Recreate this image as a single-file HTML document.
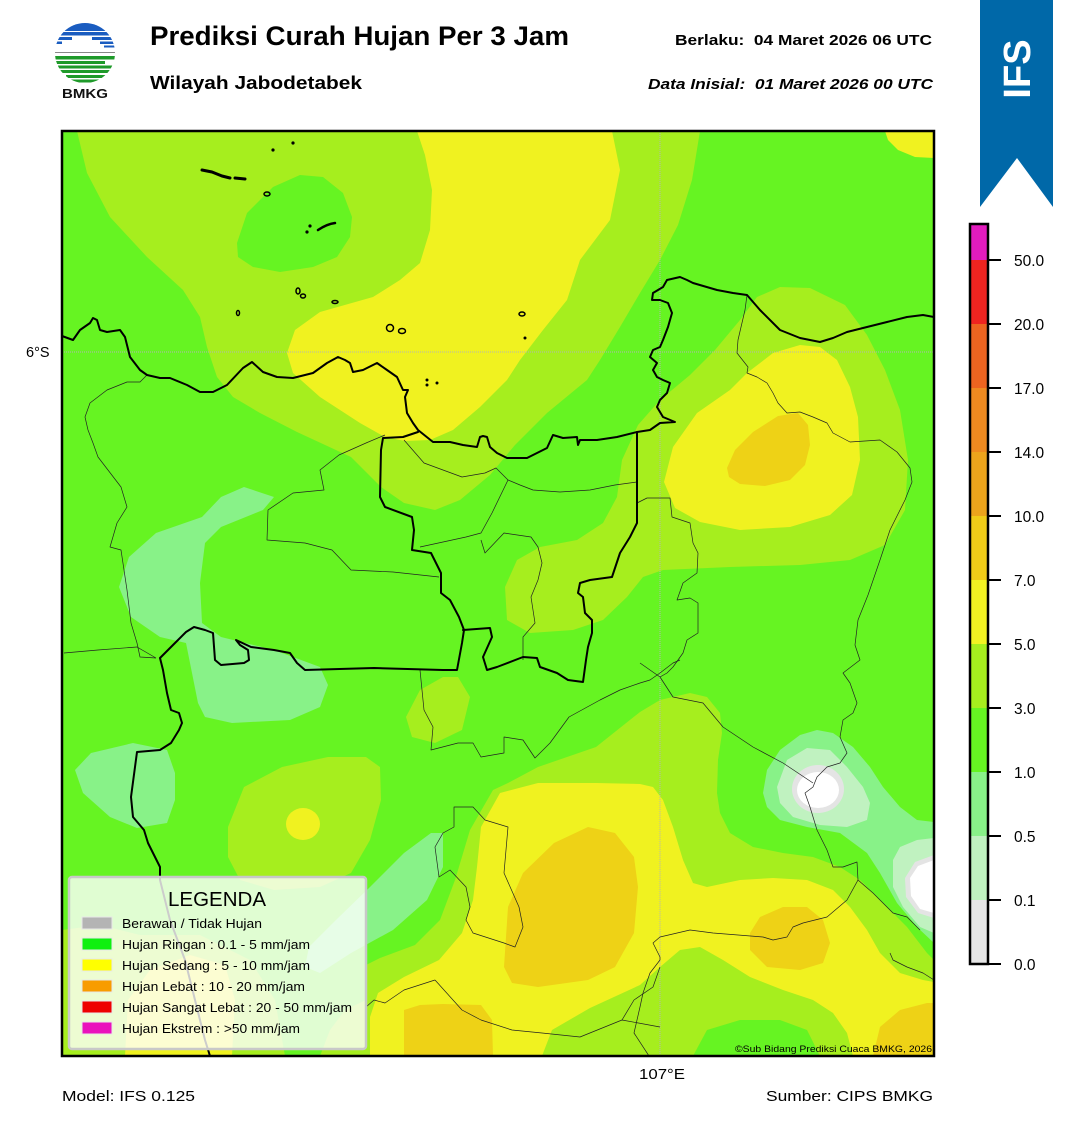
<!DOCTYPE html>
<html><head><meta charset="utf-8"><style>html,body{margin:0;padding:0;background:#fff}svg{display:block}</style></head>
<body>
<svg width="1072" height="1128" viewBox="0 0 1072 1128" xmlns="http://www.w3.org/2000/svg" font-family="'Liberation Sans', Arial, sans-serif">
<defs>
<clipPath id="mapclip"><rect x="62" y="131" width="872" height="925"/></clipPath>
<clipPath id="logoclip"><circle cx="85" cy="53" r="30"/></clipPath>
</defs>
<rect width="1072" height="1128" fill="#fff"/>

<!-- ===== MAP ===== -->
<g clip-path="url(#mapclip)" stroke-linejoin="round">
<rect x="62" y="131" width="872" height="925" fill="#66f422"/>
<!-- lime big top-left + band -->
<polygon fill="#a6ee1e" points="77,131 700,131 692,180 678,225 660,260 640,293 620,327 600,360 587,380 547,413 515,445 490,475 460,500 435,510 404,503 381,487 351,457 297,432 260,413 233,397 217,377 207,347 200,317 183,290 147,257 110,217 87,173"/>
<!-- green blob in lime -->
<polygon fill="#66f422" points="237,243 247,213 273,187 300,175 323,177 343,193 352,217 350,237 337,257 313,267 280,272 253,267 238,257"/>
<!-- top yellow -->
<polygon fill="#f0f220" points="417,131 612,131 620,170 610,220 580,260 567,300 543,330 520,360 507,380 480,407 453,430 430,440 405,441 385,437 360,423 320,397 293,373 287,353 295,330 320,312 373,297 400,280 420,263 430,230 432,190 425,155"/>
<!-- top-right yellow corner -->
<polygon fill="#f0f220" points="885,131 934,131 934,158 915,157 898,150 888,140"/>
<!-- lime ring right -->
<polygon fill="#a6ee1e" points="757,297 740,320 715,350 690,375 660,400 638,425 622,460 617,497 603,523 577,540 540,547 517,560 505,587 507,620 530,633 573,630 603,620 627,597 643,577 663,570 730,567 800,565 850,560 885,545 905,510 908,460 900,410 885,370 867,335 845,305 810,288 780,287"/>
<!-- yellow ring -->
<polygon fill="#f0f220" points="664,482 673,447 697,413 730,390 747,373 773,353 800,345 820,347 837,360 850,387 858,417 860,460 852,495 830,515 790,527 740,530 700,522 675,508"/>
<!-- gold ring -->
<polygon fill="#eed216" points="727,468 735,450 753,432 778,416 798,413 808,425 810,445 805,465 790,480 765,486 740,484 729,477"/>
<!-- lime small blob -->
<polygon fill="#a6ee1e" points="443,677 420,690 406,717 412,737 435,743 462,730 470,697 458,677"/>
<!-- light green big left -->
<polygon fill="#88f288" points="274,497 244,487 221,497 202,517 156,533 129,557 119,587 131,617 160,637 186,643 190,663 198,703 205,717 232,723 290,720 320,707 328,685 320,667 274,650 221,637 202,623 200,583 205,543 221,527 263,510"/>
<!-- light green left lower -->
<polygon fill="#88f288" points="75,770 91,753 133,743 167,750 175,773 175,800 167,823 137,828 110,817 83,793"/>
<!-- lime center-left -->
<polygon fill="#a6ee1e" points="228,827 244,787 282,767 328,757 366,757 380,767 381,800 370,840 351,873 320,887 274,890 240,880 228,857"/>
<ellipse cx="303" cy="824" rx="17" ry="16" fill="#f0f220"/>
<!-- bottom-left lime / yellow -->
<polygon fill="#a6ee1e" points="62,930 100,925 140,935 200,935 250,960 275,1000 285,1056 62,1056"/>
<polygon fill="#f0f220" points="125,1056 128,1000 150,970 190,955 225,965 235,1000 232,1056"/>
<polygon fill="#a6ee1e" points="320,1056 330,1030 345,1010 366,1000 366,1056"/>
<!-- light green diagonal -->
<polygon fill="#88f288" points="443,833 431,833 404,853 370,887 336,920 309,947 305,967 320,973 351,953 393,930 427,900 443,867"/>
<!-- bottom lime big -->
<polygon fill="#a6ee1e" points="366,965 380,958 415,945 440,920 455,880 470,830 493,790 508,783 538,767 596,747 640,712 660,700 690,693 707,697 720,713 722,733 718,760 717,793 720,813 730,833 753,847 783,853 813,857 840,867 860,880 873,893 893,913 907,927 927,953 934,960 934,1056 366,1056"/>
<!-- bottom yellow big -->
<polygon fill="#f0f220" points="500,793 538,783 596,783 640,784 653,787 663,800 673,827 683,860 693,883 707,887 740,880 773,878 807,880 833,890 850,907 867,930 880,953 900,973 923,980 934,982 934,1056 853,1056 847,1033 833,1013 813,1000 783,990 750,977 723,960 700,947 680,950 660,967 640,985 590,1008 552,1030 542,1056 370,1056 370,1017 378,993 404,977 439,960 462,933 473,900 477,867 481,827"/>
<polygon fill="#66f422" points="693,1056 707,1030 740,1020 780,1020 807,1030 820,1056"/>
<!-- golds -->
<polygon fill="#eed216" points="504,967 508,907 523,873 554,843 588,827 615,833 634,857 638,887 634,933 615,967 588,980 538,987 512,983"/>
<polygon fill="#eed216" points="404,1056 404,1010 420,1005 443,1004 481,1005 492,1020 493,1056"/>
<polygon fill="#eed216" points="750,933 760,917 783,907 807,907 823,920 830,943 823,963 800,970 767,967 750,950"/>
<polygon fill="#eed216" points="873,1056 880,1027 900,1010 927,1003 934,1003 934,1056"/>
<!-- light green / pale / white right -->
<polygon fill="#88f288" points="763,793 767,770 780,750 800,735 817,730 833,733 853,747 870,767 883,787 900,807 917,820 934,822 934,943 917,927 897,903 880,873 867,853 840,833 807,827 780,820 767,807"/>
<polygon fill="#c0f2c0" points="777,787 787,760 807,748 830,750 847,767 863,787 870,803 867,820 847,827 820,825 793,817 780,803"/>
<ellipse cx="818" cy="789" rx="26" ry="24" fill="#e4e4e4"/>
<ellipse cx="818" cy="790" rx="21" ry="18" fill="#ffffff"/>
<polygon fill="#c0f2c0" points="893,860 900,847 917,840 934,838 934,933 920,927 903,907 893,887"/>
<polygon fill="#e4e4e4" points="905,878 915,862 934,855 934,918 918,913 906,897"/>
<polygon fill="#ffffff" points="910,878 918,866 934,860 934,913 920,909 911,896"/>

<!-- grid lines -->
<line x1="660" y1="131" x2="660" y2="1056" stroke="#b4b4b4" stroke-width="1" stroke-dasharray="1,1"/>
<line x1="62" y1="352" x2="934" y2="352" stroke="#b4b4b4" stroke-width="1" stroke-dasharray="1,1"/>

<!-- thin borders -->
<g fill="none" stroke="#222" stroke-width="0.7">
<path d="M147,375 L140,382 L127,382 L107,390 L90,403 L85,417 L88,430 L93,443 L98,457 L121,487 L127,507 L117,523 L110,547 L121,550 L127,590 L131,623 L137,643 L140,657 L156,658"/>
<path d="M64,653 L98,650 L137,647 L156,658"/>
<path d="M385,435 L366,443 L339,455 L320,470 L324,490 L293,493 L268,510 L267,540 L305,543 L332,550 L351,570 L393,572 L439,577"/>
<path d="M404,440 L424,463 L462,477 L485,473 L496,468 L508,480 L520,485 L533,490 L560,492 L590,490 L615,485 L637,482"/>
<path d="M508,480 L492,513 L481,533 L466,537 L420,547"/>
<path d="M481,540 L485,553 L504,533 L531,537 L538,547 L542,563 L538,580 L531,597 L535,623 L523,637 L523,660"/>
<path d="M637,503 L647,498 L670,498 L672,517 L690,523 L693,543 L698,553 L697,573 L683,583 L677,600 L690,598 L698,603 L698,633 L687,640 L683,653 L673,667 L667,673 L660,677"/>
<path d="M747,295 L745,310 L738,340 L737,353 L748,367 L747,373 L757,377 L767,383 L773,393 L778,403 L787,413 L800,412 L813,417 L827,423 L833,433 L850,442 L880,440 L897,452 L910,468 L912,482 L905,500 L890,530 L880,560 L868,595 L858,620 L855,645 L860,660 L843,673 L850,683 L857,703 L853,713 L843,720 L840,737 L847,753 L840,763 L827,767 L817,777 L813,787 L805,793 L810,807 L817,830 L827,850 L833,867 L843,867 L857,862 L858,880 L847,900 L827,917 L803,923 L793,927 L787,937 L773,940 L763,937 L713,933 L690,930 L660,937 L653,943 L660,957 L660,960 L650,973 L643,993 L640,1007 L634,1033 L649,1056"/>
<path d="M858,880 L873,893 L893,913 L907,917 L920,930"/>
<path d="M890,953 L893,960 L907,967 L923,973 L934,980"/>
<path d="M640,663 L660,677 L673,697 L703,703 L723,727 L753,747 L783,763 L813,783"/>
<path d="M640,683 L650,680 L660,673 L673,663 L680,660"/>
<path d="M420,670 L424,710 L433,727 L431,750 L458,743 L473,743 L481,757 L504,753 L504,737 L523,740 L535,758 L550,743 L569,717 L600,700 L620,690 L640,683"/>
<path d="M454,807 L473,807 L485,820 L508,827 L504,873 L519,907 L523,927 L515,947 L504,943 L473,933 L466,920 L470,907 L466,887 L450,870 L439,877 L435,847 L443,833 L454,827 Z"/>
<path d="M435,980 L462,1010 L481,1020 L512,1030 L542,1033 L580,1037 L622,1020 L660,1027"/>
<path d="M435,980 L404,990 L385,1003 L374,1000 L366,1007"/>
<path d="M622,1020 L634,1000 L653,987 L660,967"/>
</g>

<!-- thick coast & borders -->
<g fill="none" stroke="#000" stroke-width="2" stroke-linejoin="round" stroke-linecap="round">
<path d="M62,336 L73,340 L80,330 L90,323 L93,318 L97,320 L100,330 L107,332 L120,330 L125,337 L130,357 L140,370 L147,375 L160,378 L170,378 L187,385 L200,392 L213,392 L227,385 L243,368 L252,362 L263,372 L277,377 L293,378 L313,373 L327,363 L338,357 L345,360 L350,363 L353,372 L363,370 L377,363 L387,370 L397,377 L403,390 L408,390 L405,397 L407,413 L413,423 L418,430 L433,442 L450,442 L463,445 L477,447 L480,437 L483,436 L487,437 L490,447 L497,453 L507,458 L527,458 L537,453 L547,448 L553,435 L563,438 L577,437 L578,445 L580,440 L597,440 L617,437 L637,432 L650,430 L660,423 L675,422 L663,417 L657,407 L660,400 L667,393 L670,383 L663,380 L657,377 L653,370 L657,363 L650,357 L653,350 L660,347 L663,340 L668,327 L672,313 L668,303 L660,300 L652,300 L653,293 L663,287 L667,280 L680,277 L687,280 L693,283 L717,290 L733,293 L747,295 L760,310 L780,330 L800,338 L820,342 L833,338 L847,332 L867,327 L887,322 L907,317 L923,315 L934,317"/>
<path d="M418,432 L403,437 L383,438 L381,450 L380,497 L385,507 L412,517 L414,530 L412,550 L431,553 L441,573 L441,593 L450,600 L459,617 L464,630 L462,643 L457,670 L443,670 L374,668 L305,670 L297,663 L290,653 L274,650 L251,647 L236,640 L240,645 L248,650 L249,660 L244,663 L221,665 L215,660 L213,633 L205,630 L194,627 L186,632 L175,643 L160,658 L163,670 L167,693 L171,710 L179,713 L182,723 L179,730 L171,743 L160,750 L137,752 L135,767 L131,797 L133,817 L144,830 L148,843 L160,867 L160,880 L170,920 L185,960 L195,1000 L205,1040 L210,1056"/>
<path d="M463,630 L490,628 L492,637 L483,657 L487,670 L497,667 L523,657 L537,658 L540,667 L557,673 L568,680 L583,682 L586,660 L588,647 L592,633 L592,620 L585,613 L583,597 L578,593 L580,583 L590,580 L612,577 L620,553 L630,537 L637,523 L637,432"/>
<!-- islands -->
<path d="M202,170 L212,172 L222,176 L230,178" stroke-width="3"/>
<path d="M235,178 L245,179" stroke-width="3"/>
<path d="M318,230 Q327,224 335,223" stroke-width="2.5"/>
</g>
<g fill="none" stroke="#000" stroke-width="1.5">
<ellipse cx="267" cy="194" rx="3" ry="2"/>
<ellipse cx="298" cy="291" rx="2" ry="3"/>
<ellipse cx="303" cy="296" rx="2.5" ry="2"/>
<ellipse cx="335" cy="302" rx="3" ry="1.5"/>
<ellipse cx="238" cy="313" rx="1.5" ry="2.5"/>
<ellipse cx="390" cy="328" rx="3.5" ry="3.5"/>
<ellipse cx="402" cy="331" rx="3.5" ry="2.5"/>
<ellipse cx="522" cy="314" rx="3" ry="2"/>
</g>
<g fill="#000">
<circle cx="273" cy="150" r="1.6"/><circle cx="293" cy="143" r="1.6"/>
<circle cx="307" cy="232" r="1.6"/><circle cx="310" cy="226" r="1.6"/>
<circle cx="525" cy="338" r="1.5"/><circle cx="427" cy="380" r="1.5"/>
<circle cx="427" cy="385" r="1.5"/><circle cx="437" cy="383" r="1.5"/>
</g>

<!-- legend -->
<rect x="69" y="877" width="297" height="172" rx="3" fill="#ffffff" fill-opacity="0.8" stroke="#c8c8c8" stroke-width="2.5"/>
<text x="168" y="906" font-size="20" textLength="98" lengthAdjust="spacingAndGlyphs" fill="#000">LEGENDA</text>
<g stroke="#e8e8e8" stroke-width="1">
<rect x="82" y="917" width="30" height="12" fill="#b4b4b4"/>
<rect x="82" y="938" width="30" height="12" fill="#10f010"/>
<rect x="82" y="959" width="30" height="12" fill="#ffff00"/>
<rect x="82" y="980" width="30" height="12" fill="#f89c00"/>
<rect x="82" y="1001" width="30" height="12" fill="#ee0000"/>
<rect x="82" y="1022" width="30" height="12" fill="#ea12bc"/>
</g>
<g font-size="12.5" fill="#000">
<text x="122" y="928" textLength="140" lengthAdjust="spacingAndGlyphs">Berawan / Tidak Hujan</text>
<text x="122" y="949" textLength="188" lengthAdjust="spacingAndGlyphs">Hujan Ringan : 0.1 - 5 mm/jam</text>
<text x="122" y="970" textLength="188" lengthAdjust="spacingAndGlyphs">Hujan Sedang : 5 - 10 mm/jam</text>
<text x="122" y="991" textLength="183" lengthAdjust="spacingAndGlyphs">Hujan Lebat : 10 - 20 mm/jam</text>
<text x="122" y="1012" textLength="230" lengthAdjust="spacingAndGlyphs">Hujan Sangat Lebat : 20 - 50 mm/jam</text>
<text x="122" y="1033" textLength="178" lengthAdjust="spacingAndGlyphs">Hujan Ekstrem : &gt;50 mm/jam</text>
</g>
<text x="735" y="1052" font-size="9.5" textLength="197" lengthAdjust="spacingAndGlyphs" fill="#000">©Sub Bidang Prediksi Cuaca BMKG, 2026</text>
</g>
<rect x="62" y="131" width="872" height="925" fill="none" stroke="#000" stroke-width="2.5"/>

<!-- axis labels -->
<text x="26" y="357" font-size="14.5" fill="#000">6°S</text>
<text x="639" y="1079" font-size="14.5" textLength="46" lengthAdjust="spacingAndGlyphs" fill="#000">107°E</text>
<text x="62" y="1101" font-size="14.5" textLength="133" lengthAdjust="spacingAndGlyphs" fill="#000">Model: IFS 0.125</text>
<text x="766" y="1101" font-size="14.5" textLength="167" lengthAdjust="spacingAndGlyphs" fill="#000">Sumber: CIPS BMKG</text>

<!-- header -->
<text x="150" y="45" font-size="27" font-weight="bold" textLength="419" lengthAdjust="spacingAndGlyphs" fill="#000">Prediksi Curah Hujan Per 3 Jam</text>
<text x="150" y="89" font-size="18" font-weight="bold" textLength="212" lengthAdjust="spacingAndGlyphs" fill="#000">Wilayah Jabodetabek</text>
<text x="675" y="45" font-size="15" font-weight="bold" textLength="257" lengthAdjust="spacingAndGlyphs" fill="#000" xml:space="preserve">Berlaku:  04 Maret 2026 06 UTC</text>
<text x="648" y="89" font-size="15" font-weight="bold" font-style="italic" textLength="285" lengthAdjust="spacingAndGlyphs" fill="#000" xml:space="preserve">Data Inisial:  01 Maret 2026 00 UTC</text>

<!-- BMKG logo -->
<g clip-path="url(#logoclip)">
<rect x="50" y="20" width="70" height="70" fill="#fff"/>
<rect x="50" y="20" width="70" height="11" fill="#1a5cc0"/>
<rect x="50" y="32" width="70" height="3.5" fill="#1a5cc0"/>
<rect x="50" y="37" width="22" height="3" fill="#1a5cc0"/>
<rect x="92" y="37" width="28" height="3" fill="#1a5cc0"/>
<rect x="50" y="41.5" width="12" height="2.5" fill="#1a5cc0"/>
<rect x="100" y="41.5" width="20" height="2.5" fill="#1a5cc0"/>
<rect x="104" y="45.5" width="16" height="2" fill="#1a5cc0"/>
<rect x="50" y="52" width="70" height="1" fill="#888"/>
<rect x="50" y="56" width="70" height="3.5" fill="#1f9a2a"/>
<rect x="50" y="61" width="55" height="3" fill="#1f9a2a"/>
<rect x="58" y="65.5" width="62" height="3" fill="#1f9a2a"/>
<rect x="50" y="70" width="70" height="3" fill="#1f9a2a"/>
<rect x="66" y="75" width="54" height="3" fill="#1f9a2a"/>
<rect x="50" y="79.5" width="70" height="3" fill="#1f9a2a"/>
</g>
<text x="62" y="98" font-size="13" font-weight="bold" textLength="46" lengthAdjust="spacingAndGlyphs" fill="#111">BMKG</text>

<!-- IFS banner -->
<polygon points="980,0 1053,0 1053,207 1017,158 980,207" fill="#0068a8"/>
<text transform="translate(1030,69) rotate(-90)" text-anchor="middle" font-size="38" font-weight="bold" fill="#fff">IFS</text>

<!-- colorbar -->
<rect x="970" y="224" width="18" height="36" fill="#e21cbe"/>
<rect x="970" y="260" width="18" height="64" fill="#ee2420"/>
<rect x="970" y="324" width="18" height="64" fill="#ec6420"/>
<rect x="970" y="388" width="18" height="64" fill="#ee8a20"/>
<rect x="970" y="452" width="18" height="64" fill="#eca41c"/>
<rect x="970" y="516" width="18" height="64" fill="#f0cc18"/>
<rect x="970" y="580" width="18" height="64" fill="#f2f222"/>
<rect x="970" y="644" width="18" height="64" fill="#a6ee1e"/>
<rect x="970" y="708" width="18" height="64" fill="#66f422"/>
<rect x="970" y="772" width="18" height="64" fill="#88f288"/>
<rect x="970" y="836" width="18" height="64" fill="#c0f2c0"/>
<rect x="970" y="900" width="18" height="64" fill="#e6e6e6"/>
<rect x="970" y="224" width="18" height="740" fill="none" stroke="#000" stroke-width="2.5"/>
<g stroke="#000" stroke-width="2">
<line x1="988" y1="260" x2="1001" y2="260"/><line x1="988" y1="324" x2="1001" y2="324"/>
<line x1="988" y1="388" x2="1001" y2="388"/><line x1="988" y1="452" x2="1001" y2="452"/>
<line x1="988" y1="516" x2="1001" y2="516"/><line x1="988" y1="580" x2="1001" y2="580"/>
<line x1="988" y1="644" x2="1001" y2="644"/><line x1="988" y1="708" x2="1001" y2="708"/>
<line x1="988" y1="772" x2="1001" y2="772"/><line x1="988" y1="836" x2="1001" y2="836"/>
<line x1="988" y1="900" x2="1001" y2="900"/><line x1="988" y1="964" x2="1001" y2="964"/>
</g>
<g font-size="15.5" fill="#000">
<text x="1014" y="266">50.0</text><text x="1014" y="330">20.0</text>
<text x="1014" y="394">17.0</text><text x="1014" y="458">14.0</text>
<text x="1014" y="522">10.0</text><text x="1014" y="586">7.0</text>
<text x="1014" y="650">5.0</text><text x="1014" y="714">3.0</text>
<text x="1014" y="778">1.0</text><text x="1014" y="842">0.5</text>
<text x="1014" y="906">0.1</text><text x="1014" y="970">0.0</text>
</g>
</svg>
</body></html>
